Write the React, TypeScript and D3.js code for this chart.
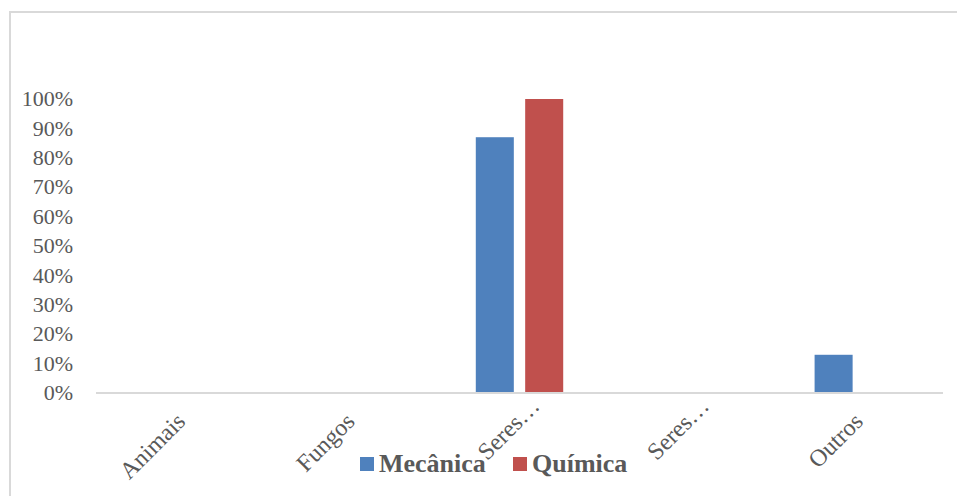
import React from "react";
import * as d3 from "d3";

const categories = ["Animais", "Fungos", "Seres…", "Seres…", "Outros"];
const seriesNames = ["Mecânica", "Química"];
const mecanica = [0, 0, 0.87, 0, 0.13];
const quimica = [0, 0, 1.0, 0, 0];
const yTicks = [0, 0.1, 0.2, 0.3, 0.4, 0.5, 0.6, 0.7, 0.8, 0.9, 1.0];
const colors = ["#4f81bd", "#c0504d"];

const W = 957;
const H = 496;
const FONT = "'Times New Roman', 'Liberation Serif', serif";
const TEXT = "#595959";

export default function App() {
  const keys = categories.map((_, i) => String(i));
  const x = d3.scaleBand<string>().domain(keys).range([96, 943]);
  const y = d3.scaleLinear().domain([0, 1]).range([393, 99]);
  const bw = x.bandwidth();
  const x1 = d3
    .scaleBand<string>()
    .domain(seriesNames)
    .range([bw * 0.242, bw * 0.758])
    .paddingInner(0.23);
  const values = [mecanica, quimica];
  const fmt = d3.format(".0%");

  return (
    <div style={{ position: "absolute", left: 0, top: 0 }}>
      <svg width={W} height={H} style={{ display: "block", background: "#fff" }}>
        <rect x={10} y={12} width={W} height={H} fill="#fff" stroke="#d9d9d9" strokeWidth={2} />

        {/* y tick labels */}
        {yTicks.map((t) => (
          <text
            key={t}
            x={73}
            y={y(t)}
            dy="0.33em"
            textAnchor="end"
            fontFamily={FONT}
            fontSize={22}
            fill={TEXT}
          >
            {fmt(t)}
          </text>
        ))}

        {/* bars */}
        {keys.map((k, i) => (
          <g key={k} transform={`translate(${x(k)},0)`}>
            {seriesNames.map((s, si) => {
              const v = values[si][i];
              if (!v) return null;
              return (
                <rect
                  key={s}
                  x={x1(s)}
                  y={y(v)}
                  width={x1.bandwidth()}
                  height={y(0) - y(v)}
                  fill={colors[si]}
                />
              );
            })}
          </g>
        ))}

        {/* category axis */}
        <line x1={96} x2={943} y1={y(0)} y2={y(0)} stroke="#d9d9d9" strokeWidth={2} />
        {categories.map((c, i) => {
          const cx = (x(keys[i]) as number) + bw / 2 + 6;
          const cy = 423;
          const shift = c.endsWith("…") ? 22 : 0;
          return (
            <text
              key={i}
              transform={`translate(${cx},${cy}) rotate(-45)`}
              dx={shift}
              textAnchor="end"
              fontFamily={FONT}
              fontSize={24}
              fill={TEXT}
            >
              {c}
            </text>
          );
        })}

        {/* legend */}
        {seriesNames.map((s, si) => {
          const lx = si === 0 ? 360 : 513;
          return (
            <g key={s}>
              <rect x={lx} y={457} width={14} height={14} fill={colors[si]} />
              <text
                x={lx + 19}
                y={472}
                fontFamily={FONT}
                fontSize={26}
                fontWeight="bold"
                fill={TEXT}
              >
                {s}
              </text>
            </g>
          );
        })}
      </svg>
    </div>
  );
}
